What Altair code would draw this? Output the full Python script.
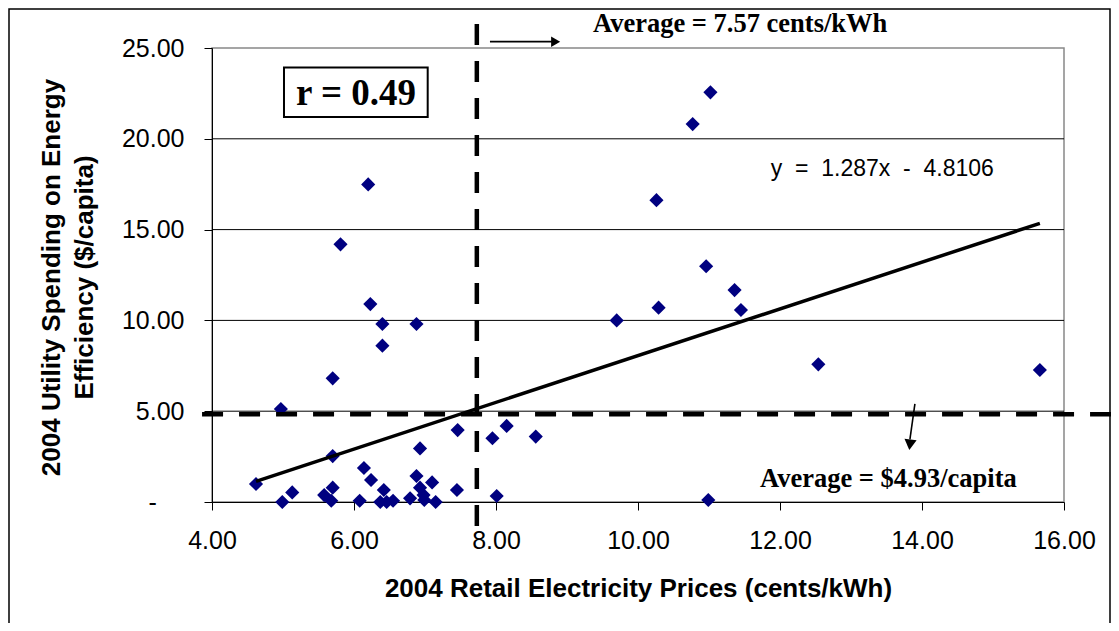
import altair as alt
import pandas as pd

# ---- data ----
price = [4.62, 4.99, 4.97, 5.13, 5.58, 5.68, 5.70, 5.70, 5.70, 5.81,
         6.08, 6.14, 6.20, 6.23, 6.24, 6.37, 6.40, 6.40, 6.42, 6.46,
         6.55, 6.79, 6.88, 6.88, 6.93, 6.93, 6.98, 6.99, 7.10, 7.15,
         7.45, 7.46, 7.95, 8.01, 8.15, 8.56, 9.70, 10.26, 10.29, 10.77,
         10.96, 10.99, 11.02, 11.36, 11.45, 12.54, 15.66]
spending = [0.99, 0.00, 5.12, 0.53, 0.38, 0.07, 0.79, 2.53, 6.81, 14.19,
            0.07, 1.87, 17.49, 10.90, 1.21, 0.00, 9.80, 8.61, 0.66, 0.00,
            0.07, 0.20, 9.80, 1.43, 2.95, 0.79, 0.38, 0.11, 1.08, 0.00,
            0.66, 3.96, 3.51, 0.33, 4.19, 3.60, 10.00, 16.62, 10.70, 20.81,
            12.98, 0.11, 22.56, 11.67, 10.57, 7.58, 7.27]

slope = 1.287
intercept = -4.8106
trend_x = [4.62, 15.66]

x_ticks = [4, 6, 8, 10, 12, 14, 16]
y_ticks = [0, 5, 10, 15, 20, 25]
grid_y = [5, 10, 15, 20]

avg_price_line = 7.73       # drawn position of the "Average = 7.57" line
avg_spend_line = 4.83       # drawn position of the "Average = $4.93" line
vline_y = [26.32, -1.6]
hline_x = [3.86, 16.7]

x_title = "2004 Retail Electricity Prices (cents/kWh)"
y_title = ["2004 Utility Spending on Energy", "Efficiency ($/capita)"]
eq_text = "y\u00a0 =\u00a0 1.287x\u00a0 -\u00a0 4.8106"
avg_price_text = "Average = 7.57 cents/kWh"
avg_spend_text = "Average = $4.93/capita"
r_text = "r = 0.49"

# ---- tables ----
pts = pd.DataFrame({"x": price, "y": spending})
trend = pd.DataFrame({"x": trend_x, "y": [slope * v + intercept for v in trend_x]})
grid = pd.DataFrame({"y": grid_y, "x": [4] * len(grid_y), "x2": [16] * len(grid_y)})
vline = pd.DataFrame({"x": [avg_price_line], "y": [vline_y[0]], "y2": [vline_y[1]]})
hline = pd.DataFrame({"x": [hline_x[0]], "x2": [hline_x[1]], "y": [avg_spend_line]})

arrow_lines = pd.DataFrame({"x": [7.915, 13.90], "x2": [8.79, 13.83],
                            "y": [25.35, 5.40], "y2": [25.35, 3.45]})
arrow_right = pd.DataFrame({"x": [8.84], "y": [25.35]})
arrow_down = pd.DataFrame({"x": [13.83], "y": [3.15]})

avg_price_df = pd.DataFrame({"x": [9.366], "y": [25.9], "t": [avg_price_text]})
avg_spend_df = pd.DataFrame({"x": [11.718], "y": [0.843], "t": [avg_spend_text]})
eq_df = pd.DataFrame({"x": [11.87], "y": [17.95], "t": [eq_text]})
rbox = pd.DataFrame({"x": [5.014], "x2": [7.038], "y": [23.92], "y2": [21.2]})
rtext = pd.DataFrame({"x": [6.028], "y": [21.86], "t": [r_text]})
frame = pd.DataFrame({"a": [0]})

xs = alt.Scale(domain=[4, 16], nice=False, zero=False)
ys = alt.Scale(domain=[0, 25], nice=False, zero=False)

# accounting-style "-" for zero, padded with no-break spaces; the trailing
# zero-width space keeps the padding from being trimmed
zero_label = "'-" + "\u00a0" * 4 + "\u200b'"

points = alt.Chart(pts).mark_point(
    shape="diamond", filled=True, size=200, color="#000080", opacity=1, strokeWidth=0
).encode(
    x=alt.X("x:Q", scale=xs, title=x_title,
            axis=alt.Axis(values=x_ticks, format=".2f", grid=False, labelFlush=False,
                          labelFont="Liberation Sans", labelFontSize=25, labelColor="black",
                          labelBaseline="alphabetic", labelPadding=38,
                          tickSize=8, tickColor="black", domainColor="black",
                          titleFont="Liberation Sans", titleFontSize=26, titleFontWeight="bold",
                          titleColor="black", titleY=94, titleBaseline="alphabetic")),
    y=alt.Y("y:Q", scale=ys, title=y_title,
            axis=alt.Axis(values=y_ticks, grid=False, labelFlush=False,
                          labelExpr="datum.value == 0 ? " + zero_label + " : format(datum.value, '.2f')",
                          labelFont="Liberation Sans", labelFontSize=25, labelColor="black",
                          labelPadding=20, tickSize=8, tickColor="black", domainColor="black",
                          titleFont="Liberation Sans", titleFontSize=26, titleFontWeight="bold",
                          titleColor="black", titleX=-153, titleY=229, titleAngle=-90,
                          titleBaseline="alphabetic", titleAlign="center", titleLineHeight=33)),
)

gridlines = alt.Chart(grid).mark_rule(color="black", strokeWidth=1).encode(
    x="x:Q", x2="x2:Q", y="y:Q")

trend_line = alt.Chart(trend).mark_line(color="black", strokeWidth=3.5).encode(x="x:Q", y="y:Q")

vrule = alt.Chart(vline).mark_rule(color="black", strokeWidth=4.5, strokeDash=[21, 16],
                                   clip=False).encode(x="x:Q", y="y:Q", y2="y2:Q")
hrule = alt.Chart(hline).mark_rule(color="black", strokeWidth=4.5, strokeDash=[21, 16],
                                   clip=False).encode(x="x:Q", x2="x2:Q", y="y:Q")

arrows = alt.Chart(arrow_lines).mark_rule(color="black", strokeWidth=1.6, clip=False).encode(
    x="x:Q", x2="x2:Q", y="y:Q", y2="y2:Q")
head_r = alt.Chart(arrow_right).mark_point(shape="triangle-right", filled=True, size=110,
                                           color="black", opacity=1, clip=False).encode(x="x:Q", y="y:Q")
head_d = alt.Chart(arrow_down).mark_point(shape="triangle-down", filled=True, size=150, angle=7,
                                          color="black", opacity=1, clip=False).encode(x="x:Q", y="y:Q")

t_price = alt.Chart(avg_price_df).mark_text(font="Liberation Serif", fontWeight="bold", fontSize=26.5,
                                            align="left", baseline="alphabetic", color="black",
                                            clip=False).encode(x="x:Q", y="y:Q", text="t:N")
t_spend = alt.Chart(avg_spend_df).mark_text(font="Liberation Serif", fontWeight="bold", fontSize=26.5,
                                            align="left", baseline="alphabetic", color="black").encode(
    x="x:Q", y="y:Q", text="t:N")
t_eq = alt.Chart(eq_df).mark_text(font="Liberation Sans", fontSize=23, align="left",
                                  baseline="alphabetic", color="black").encode(x="x:Q", y="y:Q", text="t:N")
r_rect = alt.Chart(rbox).mark_rect(fill="white", stroke="black", strokeWidth=2).encode(
    x="x:Q", x2="x2:Q", y="y:Q", y2="y2:Q")
r_txt = alt.Chart(rtext).mark_text(font="Liberation Serif", fontWeight="bold", fontSize=37,
                                   align="center", baseline="alphabetic", color="black").encode(
    x="x:Q", y="y:Q", text="t:N")

outer = alt.Chart(frame).mark_rect(fillOpacity=0, stroke="black", strokeWidth=1.5, clip=False).encode(
    x=alt.value(-203), x2=alt.value(898), y=alt.value(-39), y2=alt.value(700))

chart = alt.layer(
    gridlines, points, trend_line, vrule, hrule, arrows, head_r, head_d,
    t_price, t_spend, t_eq, r_rect, r_txt, outer
).properties(
    width=852, height=454,
    autosize=alt.AutoSizeParams(type="none"),
    padding={"left": 204, "top": 40, "right": 47, "bottom": 121},
    background="white",
).configure_view(stroke="#888888", strokeWidth=1.5)

chart.save("out.html", embed_options={"renderer": "svg", "actions": False})
